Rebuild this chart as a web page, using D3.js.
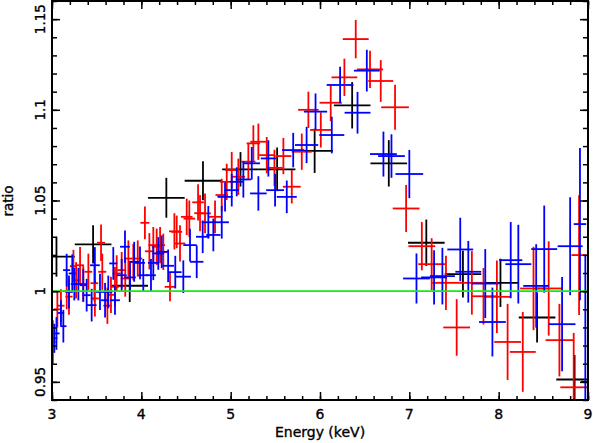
<!DOCTYPE html>
<html>
<head>
<meta charset="utf-8">
<script src="https://cdn.jsdelivr.net/npm/d3@7"></script>
<style>
	body { margin: 0; background: #fff; }
	svg { display: block; }
	text { font-family: "DejaVu Sans", sans-serif; fill: #000; stroke: #000; stroke-width: 0.35; }
</style>
</head>
<body>
<svg id="chart" width="593" height="443"></svg>
<script>
// [energy, half width, ratio, error]
let blackData = [
	[3.05, 0.205, 1.019, 0.011],
	[3.46, 0.205, 1.0258, 0.0105],
	[3.87, 0.205, 1.003, 0.009],
	[4.28, 0.205, 1.0515, 0.011],
	[4.69, 0.205, 1.0609, 0.0108],
	[5.11, 0.205, 1.0672, 0.0095],
	[5.52, 0.205, 1.0672, 0.012],
	[5.94, 0.205, 1.0774, 0.0122],
	[6.36, 0.205, 1.1025, 0.0128],
	[6.77, 0.205, 1.0705, 0.0128],
	[7.19, 0.205, 1.0267, 0.0128],
	[7.60, 0.205, 1.0094, 0.0129],
	[8.02, 0.205, 1.0046, 0.0133],
	[8.43, 0.205, 0.9855, 0.0138],
	[8.85, 0.205, 0.9513, 0.0135],
]

let redData = [
	[3.01, 0.03, 0.972, 0.012],
	[3.06, 0.04, 0.990, 0.010],
	[3.10, 0.04, 0.992, 0.009],
	[3.165, 0.04, 1.000, 0.010],
	[3.19, 0.04, 0.997, 0.010],
	[3.24, 0.04, 1.0138, 0.009],
	[3.27, 0.04, 1.006, 0.010],
	[3.314, 0.043, 1.0143, 0.010],
	[3.35, 0.043, 1.004, 0.010],
	[3.407, 0.043, 1.0107, 0.010],
	[3.474, 0.043, 1.0044, 0.010],
	[3.48, 0.045, 0.996, 0.010],
	[3.549, 0.045, 1.0267, 0.010],
	[3.563, 0.045, 1.0107, 0.010],
	[3.62, 0.045, 0.992, 0.010],
	[3.66, 0.045, 0.998, 0.010],
	[3.705, 0.045, 1.0024, 0.011],
	[3.724, 0.045, 1.0098, 0.010],
	[3.78, 0.05, 1.0116, 0.010],
	[3.82, 0.05, 1.007, 0.010],
	[3.855, 0.05, 1.018, 0.010],
	[3.91, 0.05, 1.016, 0.010],
	[3.96, 0.05, 1.018, 0.010],
	[4.04, 0.05, 1.0377, 0.009],
	[4.09, 0.05, 1.022, 0.010],
	[4.134, 0.055, 1.0254, 0.010],
	[4.172, 0.055, 1.0245, 0.010],
	[4.21, 0.055, 1.0254, 0.010],
	[4.246, 0.055, 1.0217, 0.010],
	[4.321, 0.06, 1.0024, 0.008],
	[4.37, 0.06, 1.033, 0.010],
	[4.396, 0.06, 1.0327, 0.009],
	[4.433, 0.06, 1.0263, 0.010],
	[4.508, 0.065, 1.041, 0.010],
	[4.537, 0.065, 1.040, 0.010],
	[4.635, 0.065, 1.049, 0.010],
	[4.657, 0.065, 1.043, 0.010],
	[4.713, 0.065, 1.0429, 0.011],
	[4.825, 0.07, 1.041, 0.009],
	[4.90, 0.07, 1.053, 0.009],
	[4.956, 0.075, 1.0603, 0.010],
	[5.012, 0.075, 1.0668, 0.010],
	[5.086, 0.075, 1.0631, 0.010],
	[5.198, 0.08, 1.0714, 0.010],
	[5.254, 0.075, 1.0815, 0.010],
	[5.31, 0.09, 1.0824, 0.010],
	[5.404, 0.085, 1.075, 0.010],
	[5.49, 0.09, 1.068, 0.010],
	[5.59, 0.09, 1.0745, 0.010],
	[5.684, 0.1, 1.0576, 0.0092],
	[5.796, 0.112, 1.0769, 0.010],
	[5.87, 0.115, 1.100, 0.010],
	[6.009, 0.12, 1.0889, 0.0097],
	[6.12, 0.125, 1.1039, 0.0101],
	[6.273, 0.144, 1.1179, 0.0103],
	[6.40, 0.145, 1.139, 0.0106],
	[6.56, 0.145, 1.1223, 0.0103],
	[6.68, 0.14, 1.1159, 0.0115],
	[6.84, 0.155, 1.1014, 0.0124],
	[6.964, 0.15, 1.0456, 0.013],
	[7.14, 0.15, 1.0248, 0.0133],
	[7.25, 0.15, 1.0149, 0.0143],
	[7.41, 0.155, 1.0046, 0.015],
	[7.53, 0.15, 0.980, 0.0156],
	[7.70, 0.14, 1.0046, 0.0175],
	[7.83, 0.14, 0.9972, 0.0156],
	[7.98, 0.155, 0.9969, 0.020],
	[8.10, 0.15, 0.972, 0.021],
	[8.27, 0.145, 0.9665, 0.022],
	[8.39, 0.15, 1.0015, 0.023],
	[8.56, 0.15, 1.0015, 0.026],
	[8.68, 0.155, 0.973, 0.020],
	[8.84, 0.15, 0.947, 0.030],
	[8.90, 0.085, 1.0199, 0.033],
]

let blueData = [
	[3.026, 0.035, 0.974, 0.008],
	[3.05, 0.035, 0.9767, 0.009],
	[3.10, 0.035, 0.988, 0.007],
	[3.127, 0.035, 0.9807, 0.009],
	[3.164, 0.04, 1.0116, 0.009],
	[3.19, 0.04, 0.9996, 0.009],
	[3.227, 0.04, 1.0098, 0.0105],
	[3.25, 0.04, 1.0039, 0.009],
	[3.295, 0.04, 1.0039, 0.009],
	[3.35, 0.04, 1.0033, 0.009],
	[3.388, 0.045, 0.9978, 0.009],
	[3.444, 0.055, 0.9923, 0.009],
	[3.48, 0.055, 1.0143, 0.010],
	[3.537, 0.045, 0.9996, 0.010],
	[3.594, 0.045, 0.995, 0.0095],
	[3.63, 0.045, 0.9996, 0.009],
	[3.686, 0.045, 1.0153, 0.009],
	[3.705, 0.055, 0.995, 0.008],
	[3.78, 0.055, 1.0088, 0.009],
	[3.817, 0.055, 1.0245, 0.009],
	[3.873, 0.065, 1.0076, 0.008],
	[3.92, 0.055, 1.0162, 0.011],
	[3.985, 0.055, 1.0156, 0.009],
	[4.022, 0.055, 1.0088, 0.009],
	[4.108, 0.055, 1.0088, 0.009],
	[4.134, 0.06, 1.0156, 0.0095],
	[4.19, 0.065, 1.0208, 0.009],
	[4.228, 0.065, 1.0217, 0.009],
	[4.30, 0.065, 1.014, 0.009],
	[4.38, 0.07, 1.0105, 0.009],
	[4.47, 0.085, 1.008, 0.009],
	[4.545, 0.075, 1.0254, 0.009],
	[4.62, 0.075, 1.0162, 0.009],
	[4.687, 0.075, 1.03, 0.009],
	[4.75, 0.075, 1.038, 0.009],
	[4.806, 0.08, 1.031, 0.009],
	[4.90, 0.08, 1.038, 0.009],
	[4.937, 0.085, 1.052, 0.008],
	[5.012, 0.08, 1.0557, 0.009],
	[5.068, 0.075, 1.0603, 0.008],
	[5.142, 0.085, 1.0616, 0.010],
	[5.236, 0.093, 1.0705, 0.009],
	[5.31, 0.093, 1.0539, 0.0095],
	[5.422, 0.085, 1.0732, 0.010],
	[5.497, 0.1, 1.0557, 0.009],
	[5.628, 0.112, 1.052, 0.009],
	[5.70, 0.125, 1.0778, 0.0095],
	[5.85, 0.13, 1.0806, 0.010],
	[5.95, 0.13, 1.099, 0.010],
	[6.132, 0.14, 1.0861, 0.0101],
	[6.225, 0.15, 1.1137, 0.0101],
	[6.42, 0.145, 1.0984, 0.0115],
	[6.524, 0.144, 1.1216, 0.0115],
	[6.71, 0.15, 1.0756, 0.0124],
	[6.80, 0.15, 1.0745, 0.012],
	[7.0, 0.155, 1.0646, 0.0133],
	[7.08, 0.15, 1.007, 0.0138],
	[7.277, 0.145, 1.0076, 0.015],
	[7.37, 0.14, 1.0083, 0.0156],
	[7.57, 0.145, 1.023, 0.0175],
	[7.66, 0.145, 1.0107, 0.017],
	[7.85, 0.15, 1.0042, 0.019],
	[7.93, 0.15, 0.983, 0.019],
	[8.135, 0.13, 1.0171, 0.021],
	[8.22, 0.145, 1.0149, 0.0217],
	[8.42, 0.145, 1.0029, 0.023],
	[8.51, 0.145, 1.0232, 0.024],
	[8.71, 0.15, 0.9818, 0.026],
	[8.80, 0.14, 1.0248, 0.027],
	[8.91, 0.07, 1.037, 0.042],
	[8.97, 0.05, 0.950, 0.070],
]

let xTicks = [3, 4, 5, 6, 7, 8, 9]
let xTickLabels = ['3', '4', '5', '6', '7', '8', '9']
let yTicks = [0.95, 1, 1.05, 1.1, 1.15]
let yTickLabels = ['0.95', '1', '1.05', '1.1', '1.15']
let xDomain = [3, 9]
let yDomain = [0.94, 1.16]
let unity = 1

let config = {
	left: 52,
	right: 588,
	top: 1,
	bottom: 400,
}

let svg = d3.select('#chart')

let xScale = d3.scaleLinear().domain(xDomain).range([config.left, config.right])
let yScale = d3.scaleLinear().domain(yDomain).range([config.bottom, config.top])

svg.append('clipPath')
	.attr('id', 'plot-clip')
	.append('rect')
	.attr('x', config.left)
	.attr('y', config.top)
	.attr('width', config.right - config.left)
	.attr('height', config.bottom - config.top)

let plot = svg.append('g').attr('clip-path', 'url(#plot-clip)')

function drawSeries(data, color) {
	let g = plot.append('g')
		.attr('stroke', color)
		.attr('stroke-width', 1.8)

	g.selectAll('line.h')
		.data(data)
		.enter()
		.append('line')
		.attr('class', 'h')
		.attr('x1', d => xScale(d[0] - d[1]))
		.attr('x2', d => xScale(d[0] + d[1]))
		.attr('y1', d => yScale(d[2]))
		.attr('y2', d => yScale(d[2]))

	g.selectAll('line.v')
		.data(data)
		.enter()
		.append('line')
		.attr('class', 'v')
		.attr('x1', d => xScale(d[0]))
		.attr('x2', d => xScale(d[0]))
		.attr('y1', d => yScale(d[2] - d[3]))
		.attr('y2', d => yScale(d[2] + d[3]))
}

drawSeries(blackData, '#000000')
drawSeries(redData, '#ff0000')
drawSeries(blueData, '#0000ff')

plot.append('line')
	.attr('x1', xScale(xDomain[0]))
	.attr('x2', xScale(xDomain[1]))
	.attr('y1', yScale(unity))
	.attr('y2', yScale(unity))
	.attr('stroke', '#11ee11')
	.attr('stroke-width', 1.8)

// axes with inward ticks
let xMinor = d3.range(30, 91, 2).map(d => d / 10)
let yMinor = d3.range(94, 117).map(d => d / 100)

function styleAxis(g) {
	g.select('.domain').remove()
	g.selectAll('line').attr('stroke', '#000').attr('stroke-width', 1.5)
	g.selectAll('text').remove()
}

svg.append('g').attr('transform', `translate(0,${config.bottom})`)
	.call(d3.axisBottom(xScale).tickValues(xTicks).tickSize(-8)).call(styleAxis)
svg.append('g').attr('transform', `translate(0,${config.bottom})`)
	.call(d3.axisBottom(xScale).tickValues(xMinor).tickSize(-4)).call(styleAxis)
svg.append('g').attr('transform', `translate(0,${config.top})`)
	.call(d3.axisTop(xScale).tickValues(xTicks).tickSize(-8)).call(styleAxis)
svg.append('g').attr('transform', `translate(0,${config.top})`)
	.call(d3.axisTop(xScale).tickValues(xMinor).tickSize(-4)).call(styleAxis)
svg.append('g').attr('transform', `translate(${config.left},0)`)
	.call(d3.axisLeft(yScale).tickValues(yTicks).tickSize(-8)).call(styleAxis)
svg.append('g').attr('transform', `translate(${config.left},0)`)
	.call(d3.axisLeft(yScale).tickValues(yMinor).tickSize(-5)).call(styleAxis)
svg.append('g').attr('transform', `translate(${config.right},0)`)
	.call(d3.axisRight(yScale).tickValues(yTicks).tickSize(-8)).call(styleAxis)
svg.append('g').attr('transform', `translate(${config.right},0)`)
	.call(d3.axisRight(yScale).tickValues(yMinor).tickSize(-5)).call(styleAxis)

svg.append('rect')
	.attr('x', config.left)
	.attr('y', config.top)
	.attr('width', config.right - config.left)
	.attr('height', config.bottom - config.top)
	.attr('fill', 'none')
	.attr('stroke', '#000')
	.attr('stroke-width', 2)

// tick labels
svg.selectAll('text.xlab')
	.data(xTicks)
	.enter()
	.append('text')
	.attr('class', 'xlab')
	.attr('x', d => xScale(d))
	.attr('y', 419)
	.attr('text-anchor', 'middle')
	.attr('font-size', 14)
	.text((d, i) => xTickLabels[i])

svg.selectAll('text.ylab')
	.data(yTicks)
	.enter()
	.append('text')
	.attr('class', 'ylab')
	.attr('transform', d => `translate(45,${yScale(d)}) rotate(-90)`)
	.attr('text-anchor', 'middle')
	.attr('font-size', 13.5)
	.text((d, i) => yTickLabels[i])

svg.append('text')
	.attr('x', 320)
	.attr('y', 437)
	.attr('text-anchor', 'middle')
	.attr('font-size', 14)
	.text('Energy (keV)')

svg.append('text')
	.attr('transform', `translate(13,201) rotate(-90)`)
	.attr('text-anchor', 'middle')
	.attr('font-size', 13.5)
	.text('ratio')
</script>
</body>
</html>
